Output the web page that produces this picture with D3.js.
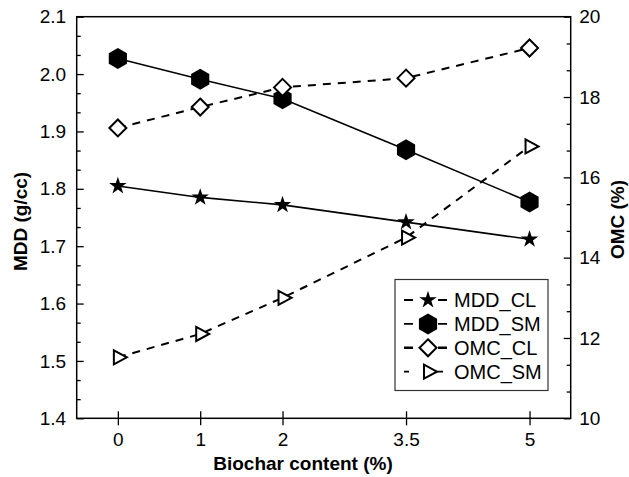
<!DOCTYPE html>
<html>
<head>
<meta charset="utf-8">
<script src="https://cdn.jsdelivr.net/npm/d3@7"></script>
<style>
  html, body { margin: 0; padding: 0; background: #fff; }
  svg { display: block; font-family: 'Liberation Sans', Arial, sans-serif; }
</style>
</head>
<body>
<svg id="chart" width="629" height="477"></svg>
<script>
// Biochar content (%) on x, MDD on left axis, OMC on right axis
const biochar = [0, 1, 2, 3.5, 5];
const mddCL = [1.805, 1.785, 1.772, 1.742, 1.712];
const mddSM = [2.027, 1.991, 1.957, 1.868, 1.777];
const omcCL = [17.23, 17.75, 18.24, 18.47, 19.22];
const omcSM = [11.52, 12.1, 13.0, 14.5, 16.77];

const mddTicks = [1.4, 1.5, 1.6, 1.7, 1.8, 1.9, 2.0, 2.1];
const omcTicks = [10, 12, 14, 16, 18, 20];

const svg = d3.select('#chart');
const margin = { top: 16.7, right: 58.3, bottom: 58.7, left: 76.7 };
const W = 629, H = 477;
const x0 = margin.left, x1 = W - margin.right;
const y0 = H - margin.bottom, y1 = margin.top;

const xScale = d3.scaleLinear().domain([-0.5, 5.5]).range([x0, x1]);
const yLeft = d3.scaleLinear().domain([1.4, 2.1]).range([y0, y1]);
const yRight = d3.scaleLinear().domain([10, 20]).range([y0, y1]);

const fontSize = 19;

// minor ticks
const mddMinor = d3.range(0, 22).map(i => 1.4 + i * 0.1 / 3).filter(v => Math.abs((v * 10) - Math.round(v * 10)) > 0.01);
const omcMinor = d3.range(0, 16).map(i => 10 + i * 2 / 3).filter(v => Math.abs(v / 2 - Math.round(v / 2)) > 0.01);

// left axis
svg.append('g')
  .attr('transform', `translate(${x0},0)`)
  .call(d3.axisLeft(yLeft).tickValues(mddMinor).tickSizeInner(-4).tickSizeOuter(0).tickFormat(''))
  .call(g => g.select('.domain').remove())
  .call(g => g.selectAll('line').attr('stroke-width', 1.3));

svg.append('g')
  .attr('transform', `translate(${x0},0)`)
  .call(d3.axisLeft(yLeft).tickValues(mddTicks).tickSizeInner(-7).tickSizeOuter(0).tickPadding(10.5).tickFormat(d3.format('.1f')))
  .call(g => g.select('.domain').remove())
  .call(g => g.selectAll('line').attr('stroke-width', 1.3))
  .call(g => g.selectAll('text').attr('font-size', fontSize).attr('font-family', null).attr('fill', '#000'));

// right axis
svg.append('g')
  .attr('transform', `translate(${x1},0)`)
  .call(d3.axisRight(yRight).tickValues(omcMinor).tickSizeInner(-4).tickSizeOuter(0).tickFormat(''))
  .call(g => g.select('.domain').remove())
  .call(g => g.selectAll('line').attr('stroke-width', 1.3));

svg.append('g')
  .attr('transform', `translate(${x1},0)`)
  .call(d3.axisRight(yRight).tickValues(omcTicks).tickSizeInner(-7).tickSizeOuter(0).tickPadding(8.5))
  .call(g => g.select('.domain').remove())
  .call(g => g.selectAll('line').attr('stroke-width', 1.3))
  .call(g => g.selectAll('text').attr('font-size', fontSize).attr('font-family', null).attr('fill', '#000'));

// bottom axis, ticks cross the axis line
svg.append('g')
  .attr('transform', `translate(0,${y0})`)
  .call(d3.axisBottom(xScale).tickValues(biochar).tickSizeInner(7).tickSizeOuter(0).tickPadding(7.5).tickFormat(d => String(d)))
  .call(g => g.select('.domain').remove())
  .call(g => g.selectAll('.tick line').attr('y1', -7).attr('stroke-width', 1.3))
  .call(g => g.selectAll('text').attr('font-size', fontSize).attr('font-family', null).attr('fill', '#000'));

// frame
svg.append('rect')
  .attr('x', x0).attr('y', y1)
  .attr('width', x1 - x0).attr('height', y0 - y1)
  .attr('fill', 'none').attr('stroke', '#000').attr('stroke-width', 1.5);

// axis titles
svg.append('text')
  .attr('x', 303).attr('y', 470)
  .attr('text-anchor', 'middle').attr('font-weight', 'bold').attr('font-size', fontSize)
  .text('Biochar content (%)');

svg.append('text')
  .attr('transform', `translate(27,${(y0 + y1) / 2 + 4}) rotate(-90)`)
  .attr('text-anchor', 'middle').attr('font-weight', 'bold').attr('font-size', fontSize)
  .text('MDD (g/cc)');

svg.append('text')
  .attr('transform', `translate(624,${(y0 + y1) / 2 + 2}) rotate(-90)`)
  .attr('text-anchor', 'middle').attr('font-weight', 'bold').attr('font-size', fontSize)
  .text('OMC (%)');

// marker shapes
const hexPath = (() => {
  const r = 10.5;
  const p = d3.path();
  for (let i = 0; i < 6; i++) {
    const a = Math.PI / 2 + i * Math.PI / 3;
    const px = r * Math.cos(a), py = r * Math.sin(a);
    if (i === 0) p.moveTo(px, py); else p.lineTo(px, py);
  }
  p.closePath();
  return p.toString();
})();
const starPath = d3.symbol(d3.symbolStar, 95)();
const diamondPath = 'M0,-8.5L8.5,0L0,8.5L-8.5,0Z';
const triPath = 'M-4,-7L9,0L-4,7Z';

const series = [
  { name: 'MDD_CL', values: mddCL, y: yLeft, dash: null, shape: starPath, fill: '#000', stroke: 'none', sw: 0 },
  { name: 'MDD_SM', values: mddSM, y: yLeft, dash: null, shape: hexPath, fill: '#000', stroke: 'none', sw: 0 },
  { name: 'OMC_CL', values: omcCL, y: yRight, dash: '8,7', shape: diamondPath, fill: '#fff', stroke: '#000', sw: 2 },
  { name: 'OMC_SM', values: omcSM, y: yRight, dash: '8,7', shape: triPath, fill: '#fff', stroke: '#000', sw: 2 }
];

const drawOrder = [series[1], series[2], series[3], series[0]];

drawOrder.forEach(s => {
  const pts = biochar.map((b, i) => [xScale(b), s.y(s.values[i])]);
  svg.append('path')
    .attr('d', d3.line()(pts))
    .attr('fill', 'none')
    .attr('stroke', '#000')
    .attr('stroke-width', s.dash ? 2 : 1.6)
    .attr('stroke-dasharray', s.dash);
  svg.append('g')
    .selectAll('path')
    .data(pts)
    .join('path')
    .attr('transform', d => `translate(${d[0]},${d[1]})`)
    .attr('d', s.shape)
    .attr('fill', s.fill)
    .attr('stroke', s.stroke)
    .attr('stroke-width', s.sw)
    .attr('stroke-linejoin', 'miter');
});

// legend
const legend = svg.append('g');
legend.append('rect')
  .attr('x', 395).attr('y', 279.5)
  .attr('width', 153).attr('height', 111)
  .attr('fill', '#fff').attr('stroke', '#333').attr('stroke-width', 1.2);

const rowY = d3.scaleLinear().domain([0, 3]).range([300, 371.7]);
series.forEach((s, i) => {
  const cy = rowY(i);
  const row = legend.append('g');
  row.append('line')
    .attr('x1', 404).attr('x2', 447)
    .attr('y1', cy).attr('y2', cy)
    .attr('stroke', '#000')
    .attr('stroke-width', i === 2 ? 2.4 : 1.8)
    .attr('stroke-dasharray', i === 3 ? '5,24,10' : '9,25,9');
  row.append('path')
    .attr('transform', `translate(428,${cy})`)
    .attr('d', s.shape)
    .attr('fill', s.fill)
    .attr('stroke', s.stroke)
    .attr('stroke-width', s.sw);
  row.append('text')
    .attr('x', 454).attr('y', cy + 7)
    .attr('font-size', 20)
    .text(s.name);
});
</script>
</body>
</html>
